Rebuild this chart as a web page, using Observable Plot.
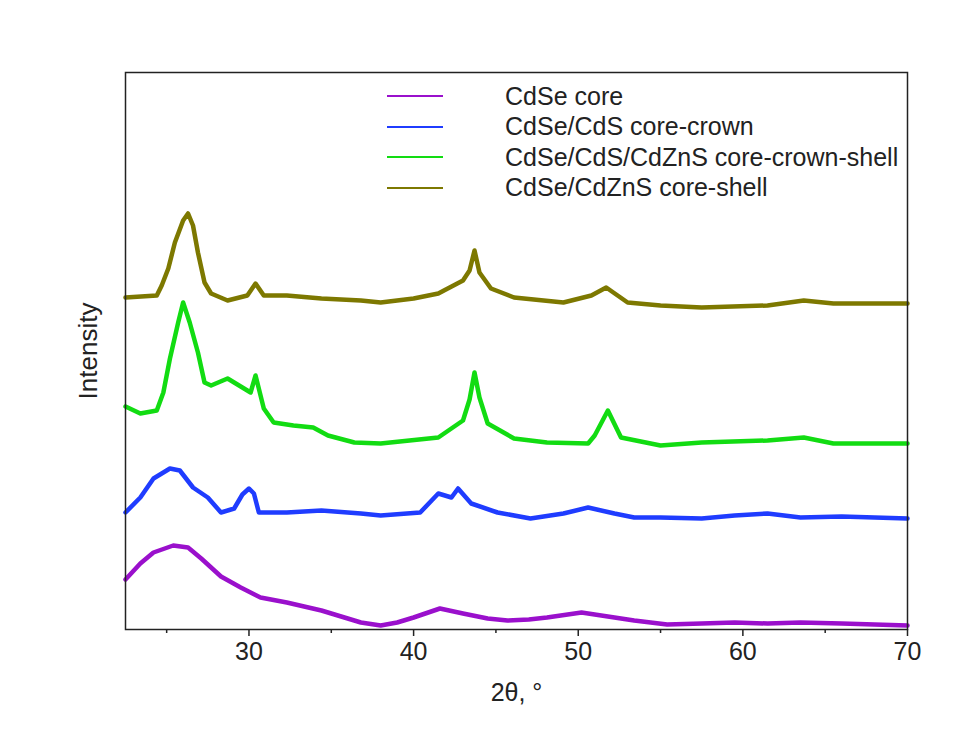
<!DOCTYPE html>
<html>
<head>
<meta charset="utf-8">
<script src="https://cdn.jsdelivr.net/npm/d3@7"></script>
<script src="https://cdn.jsdelivr.net/npm/@observablehq/plot@0.6"></script>
<style>
  html, body { margin: 0; padding: 0; background: #fff; }
  #wrap { position: relative; width: 965px; height: 740px; font-family: "Liberation Sans", Arial, sans-serif; color: #222; }
  #legend { position: absolute; left: 387px; top: 81px; font-size: 25px; }
  .row { display: flex; align-items: center; height: 30.5px; white-space: nowrap; }
  .swatch { width: 56px; height: 2px; margin-right: 62px; }
</style>
</head>
<body>
<div id="wrap"><div id="chart"></div><div id="legend"></div></div>
<script>
// Series names (legend order) and colours
const seriesNames = ["CdSe core", "CdSe/CdS core-crown", "CdSe/CdS/CdZnS core-crown-shell", "CdSe/CdZnS core-shell"];
const seriesColors = ["#9a10cc", "#1f3cff", "#12dc12", "#7d7800"];
// vertical stacking offsets (a.u.)
const seriesOffsets = [0, 105, 180, 320];

// [2θ (deg), intensity (a.u.)]
const cdseCore = [[22.5,50],[23.4,66],[24.2,77],[25.4,84],[26.3,82],[27.1,71],[28.3,53],[29.5,42],[30.7,32],[32.3,27],[34.4,19],[36.0,11],[36.8,7],[38.0,4],[39.0,7],[40.0,12],[41.6,21],[43.0,16],[44.5,11],[45.7,9],[47.0,10],[48.1,12],[50.2,17],[52.2,12],[53.4,9],[55.4,5],[57.5,6],[59.5,7],[61.5,6],[63.5,7],[66,6],[68,5],[70,4]];
const coreCrown = [[22.5,12],[23.4,27],[24.2,46],[25.2,56],[25.8,54],[26.6,37],[27.5,27],[28.3,12],[29.1,16],[29.6,30],[30.0,36],[30.3,31],[30.6,12],[32.3,12],[34.4,14],[36.8,11],[38.0,9],[40.4,12],[41.5,31],[42.3,27],[42.7,36],[43.5,21],[45.1,12],[47.1,6],[49.1,11],[50.6,17],[52.2,11],[53.4,7],[55,7],[57.5,6],[59.5,9],[61.5,11],[63.5,7],[66,8],[70,6]];
const coreCrownShell = [[22.5,43],[23.4,36],[24.4,39],[24.8,57],[25.2,91],[25.7,127],[26.0,147],[26.4,127],[26.9,97],[27.3,67],[27.7,64],[28.7,71],[29.7,61],[30.1,57],[30.4,74],[30.9,41],[31.5,27],[32.7,24],[33.9,22],[34.8,14],[36.4,7],[38.0,6],[41.5,12],[43.0,29],[43.4,50],[43.7,77],[44.0,52],[44.5,26],[46.1,11],[48.1,7],[50.6,6],[51.0,14],[51.8,39],[52.6,12],[55,4],[57.5,7],[61.5,9],[63.7,12],[65.5,6],[70,6]];
const coreShell = [[22.5,12],[24.4,14],[24.7,24],[25.1,41],[25.5,67],[26.0,89],[26.3,96],[26.6,84],[26.9,57],[27.3,27],[27.7,16],[28.7,9],[29.9,14],[30.4,26],[30.9,14],[32.3,14],[34.4,11],[36.8,9],[38.0,7],[40.0,11],[41.5,16],[43.0,29],[43.4,39],[43.7,59],[44.0,37],[44.7,21],[46.1,12],[49.1,7],[50.8,14],[51.7,22],[53.0,7],[55,4],[57.5,2],[61.5,4],[63.7,9],[65.5,6],[70,6]];

const majorTicks = [30, 40, 50, 60, 70];
const minorTicks = [25, 35, 45, 55, 65];
const xLabel = "2θ, °";
const yLabel = "Intensity";

const allSeries = [cdseCore, coreCrown, coreCrownShell, coreShell];
const data = allSeries.flatMap((pts, i) =>
  pts.map(([t, v]) => ({theta: t, intensity: v + seriesOffsets[i], name: seriesNames[i]})));

const chart = Plot.plot({
  width: 965,
  height: 740,
  marginLeft: 125,
  marginRight: 58,
  marginTop: 72,
  marginBottom: 111,
  style: {fontFamily: "'Liberation Sans', Arial, sans-serif", color: "#222", background: "#fff"},
  x: {domain: [22.5, 70]},
  y: {domain: [0, 557], axis: null},
  color: {domain: seriesNames, range: seriesColors},
  marks: [
    Plot.line(data, {x: "theta", y: "intensity", z: "name", stroke: "name", strokeWidth: 4.5, strokeLinejoin: "round"}),
    Plot.frame({stroke: "#222", strokeWidth: 1.5}),
    Plot.axisX({ticks: majorTicks, tickSize: 7, tickPadding: 6, fontSize: 25, label: null, strokeWidth: 1.5}),
    Plot.axisX({ticks: minorTicks, tickSize: 4, text: null, label: null, strokeWidth: 1.5}),
    Plot.text([xLabel], {text: d => d, frameAnchor: "bottom", textAnchor: "middle", lineAnchor: "middle", dy: 63, fontSize: 25}),
    Plot.text([yLabel], {text: d => d, frameAnchor: "left", textAnchor: "middle", lineAnchor: "middle", dx: -37, rotate: -90, fontSize: 26})
  ]
});
document.getElementById("chart").appendChild(chart);

const legend = document.getElementById("legend");
seriesNames.forEach((name, i) => {
  const row = document.createElement("div");
  row.className = "row";
  const sw = document.createElement("span");
  sw.className = "swatch";
  sw.style.background = seriesColors[i];
  const label = document.createElement("span");
  label.textContent = name;
  row.appendChild(sw);
  row.appendChild(label);
  legend.appendChild(row);
});
</script>
</body>
</html>
